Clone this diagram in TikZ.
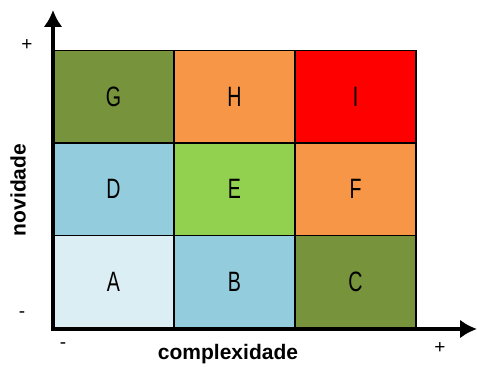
\documentclass[tikz,border=0pt]{standalone}
\usepackage{fontspec}
\setmainfont{Liberation Sans}
\usetikzlibrary{arrows.meta,positioning}
\usepackage{color}

\definecolor{oliva}{HTML}{77933C}
\definecolor{laranja}{HTML}{F79646}
\definecolor{vermelho}{HTML}{FF0000}
\definecolor{azul}{HTML}{93CDDD}
\definecolor{verde}{HTML}{92D050}
\definecolor{claro}{HTML}{DBEEF4}

\newcommand{\estreito}[1]{\scalebox{0.7}[1]{#1}}

\tikzset{
  celula/.style={draw=black, line width=1.3pt, minimum width=121pt, minimum height=92.7pt,
    inner sep=0pt, font=\fontsize{28}{30}\selectfont},
  eixo/.style={line width=4.5pt, {Latex[length=17pt,width=19pt]}-{Latex[length=17pt,width=19pt]}},
  rotulo/.style={font=\fontsize{21}{24}\selectfont\bfseries},
  sinal/.style={font=\fontsize{19}{22}\selectfont}
}

\begin{document}
\begin{tikzpicture}[x=1pt,y=1pt]
\useasboundingbox (0,0) rectangle (477,367);
% matriz 3x3
\foreach \l/\c/\i/\j in {A/claro/0/0, B/azul/1/0, C/oliva/2/0,
                         D/azul/0/1, E/verde/1/1, F/laranja/2/1,
                         G/oliva/0/2, H/laranja/1/2, I/vermelho/2/2}
  {\node[celula, fill=\c] (\l) at ({113.5+121*\i},{85+92.7*\j}) {\estreito{\l}};}
% eixos
\coordinate (canto) at (53,38);
\coordinate (topo) at (53,357);
\coordinate (fim) at (477,38);
\draw[eixo] (topo) -- (canto) -- (fim);
\node[rotulo, rotate=90] (novidade) at (18,177) {novidade};
\node[rotulo] (complexidade) at (228,13) {complexidade};
\node[sinal] (ymais) at (27,322) {+};
\node[sinal] (ymenos) at (22,52) {-};
\node[sinal] (xmenos) at (63,21) {-};
\node[sinal] (xmais) at (440,19) {+};
\end{tikzpicture}
\end{document}
